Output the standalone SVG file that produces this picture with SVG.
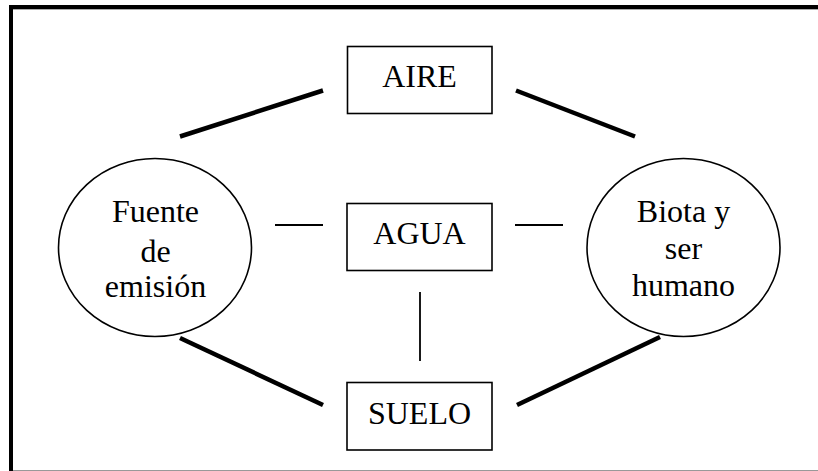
<svg xmlns="http://www.w3.org/2000/svg" width="818" height="471" viewBox="0 0 818 471">
<style>
  .box { fill: #fff; stroke: #000; stroke-width: 1.6; }
  .circ { fill: #fff; stroke: #000; stroke-width: 1.6; }
  text { font-family: 'Liberation Serif', 'Times New Roman', Times, 'DejaVu Serif', serif; font-size: 32px; fill: #000; text-anchor: middle; }
  .thick { stroke: #000; stroke-width: 4.5; fill: none; }
  .thin { stroke: #000; stroke-width: 1.8; fill: none; }
</style>
<rect x="0" y="0" width="818" height="471" fill="#fff"/>
<g id="frame">
  <line x1="9" y1="9.5" x2="818" y2="9.5" stroke="#aaa" stroke-width="1"/>
  <line x1="9" y1="470.5" x2="818" y2="470.5" stroke="#999" stroke-width="1"/>
  <path d="M11,471 V7 H818" fill="none" stroke="#000" stroke-width="4"/>
</g>
<g id="connectors">
  <line class="thick" x1="180" y1="136.5" x2="323" y2="90.5"/>
  <line class="thick" x1="516" y1="90.5" x2="635" y2="136.5"/>
  <line class="thin" x1="275" y1="225" x2="323" y2="225"/>
  <line class="thin" x1="515" y1="225" x2="563" y2="225"/>
  <line class="thin" x1="420" y1="292" x2="420" y2="361"/>
  <line class="thick" x1="180" y1="338" x2="323" y2="405"/>
  <line class="thick" x1="517" y1="405" x2="660" y2="337"/>
</g>
<g id="aire">
  <rect class="box" x="347.5" y="46.5" width="144.5" height="67"/>
  <text x="419.5" y="86.5" font-family="Liberation Serif, serif">AIRE</text>
</g>
<g id="agua">
  <rect class="box" x="347" y="203.5" width="145" height="67"/>
  <text x="419.5" y="244" font-family="Liberation Serif, serif">AGUA</text>
</g>
<g id="suelo">
  <rect class="box" x="347" y="382.5" width="145" height="67.5"/>
  <text x="419.5" y="424" font-family="Liberation Serif, serif">SUELO</text>
</g>
<g id="fuente">
  <ellipse class="circ" cx="155" cy="247.5" rx="96.5" ry="89"/>
  <text x="155.5" y="221.5">Fuente</text>
  <text x="155.5" y="261.5">de</text>
  <text x="155.5" y="296.5">emisión</text>
</g>
<g id="biota">
  <ellipse class="circ" cx="683.5" cy="247.5" rx="96.5" ry="89"/>
  <text x="683.5" y="221.5">Biota y</text>
  <text x="683.5" y="258.5">ser</text>
  <text x="683.5" y="296">humano</text>
</g>
</svg>
